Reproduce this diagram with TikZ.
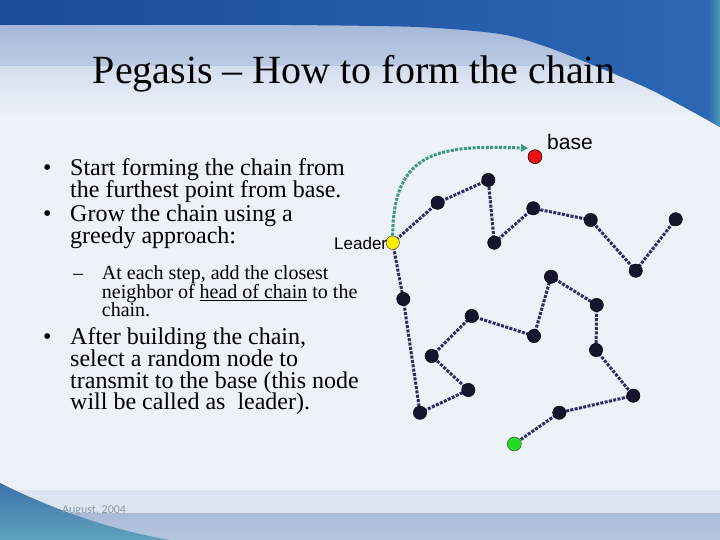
\documentclass[tikz,border=0pt]{standalone}
\usepackage{fontspec}
\setmainfont{Liberation Serif}
\newfontfamily\arialf{Liberation Sans}
\newfontfamily\calf{Carlito}
\usetikzlibrary{arrows.meta}
\pgfdeclarelayer{bglayer}
\pgfdeclarelayer{edgelayer}
\pgfsetlayers{bglayer,edgelayer,main}
\definecolor{pagebg}{HTML}{EDF1F8}
\definecolor{bandA}{HTML}{A5B8D9}
\definecolor{bandB}{HTML}{BCCBE3}
\definecolor{bandC}{HTML}{D4DEEE}
\definecolor{blueL}{HTML}{1B4C9C}
\definecolor{blueR}{HTML}{2D67B3}
\definecolor{tealS}{HTML}{4A9AB0}
\definecolor{footA}{HTML}{DCE4EF}
\definecolor{footB}{HTML}{A8BBD9}
\definecolor{footC}{HTML}{B6C6DF}
\definecolor{wedgeA}{HTML}{3D72A8}
\definecolor{wedgeB}{HTML}{5FA3BE}
\definecolor{footcol}{HTML}{8D9BB0}
\definecolor{linkcol}{HTML}{2C2C68}
\definecolor{nodedark}{HTML}{15152E}
\definecolor{arrowcol}{HTML}{3A9A88}
\definecolor{basered}{HTML}{EE1111}
\definecolor{leadyel}{HTML}{FFEE00}
\definecolor{startgreen}{HTML}{22DD22}
\begin{document}
\begin{tikzpicture}[x=1pt,y=-1pt,
  bigtext/.style={anchor=base west, inner sep=0pt, text height=15pt, text depth=4pt, font=\fontsize{24}{28}\selectfont},
  subtext/.style={anchor=base west, inner sep=0pt, text height=12.5pt, text depth=4pt, font=\fontsize{20}{24}\selectfont},
  sensor/.style={circle, fill=nodedark, draw=black, line width=0.5pt, minimum size=13.3pt, inner sep=0pt},
  basenode/.style={sensor, fill=basered, minimum size=14pt},
  leadnode/.style={sensor, fill=leadyel, draw=black!70, minimum size=13.5pt},
  startnode/.style={sensor, fill=startgreen, draw=black!70, minimum size=14pt},
  link/.style={draw=linkcol, line width=3pt, dash pattern=on 3pt off 1.4pt},
  sendarrow/.style={draw=arrowcol, line width=3pt, dash pattern=on 3pt off 1.4pt,
     -{Triangle[length=7pt,width=7.5pt]}}
]
\useasboundingbox (0,0) rectangle (720,540);
\begin{pgfonlayer}{bglayer}
  \fill[pagebg] (0,0) rectangle (720,540);
  % title band
  \shade[top color=bandA, bottom color=bandB] (0,24) rectangle (720,67);
  \shade[top color=bandC, bottom color=pagebg] (0,67) rectangle (720,115);
  % top blue swoosh
  \shade[left color=blueL, right color=blueR]
    (0,0) -- (0,25) -- plot[smooth] coordinates {(290,25) (417,27) (500,34) (547,47) (600,68) (647,88) (680,105) (720,127)} -- (720,0) -- cycle;
  \shade[left color=blueR, right color=tealS] (708,0) -- (720,0) -- (720,127) -- (708,120) -- cycle;
  % footer bands
  \fill[footA] (0,490) rectangle (720,513);
  \shade[top color=footB, bottom color=footC] (0,513) rectangle (720,540);
  \shade[top color=wedgeA, bottom color=wedgeB]
    (0,483) .. controls (40,503) and (100,528) .. (170,540) -- (0,540) -- cycle;
\end{pgfonlayer}

% title
\node[anchor=base, inner sep=0pt, font=\fontsize{40}{44}\selectfont] (title) at (354,84) {Pegasis -- How to form the chain};

% bullets
\node[bigtext] (bul1) at (43,175.7) {•};
\node[bigtext] (t1a) at (70,175.7) {Start forming the chain from};
\node[bigtext] (t1b) at (70,197.7) {the furthest point from base.};
\node[bigtext] (bul2) at (43,221.7) {•};
\node[bigtext] (t2a) at (70,221.7) {Grow the chain using a};
\node[bigtext] (t2b) at (70,243.6) {greedy approach:};
\node[subtext] (dash1) at (73,279) {--};
\node[subtext] (s1a) at (101.7,279) {At each step, add the closest};
\node[subtext] (s1b) at (101.7,298.3) {neighbor of \underline{head of chain} to the};
\node[subtext] (s1c) at (101.7,316.6) {chain.};
\node[bigtext] (bul3) at (43,344.2) {•};
\node[bigtext] (t3a) at (70,344.2) {After building the chain,};
\node[bigtext] (t3b) at (70,366.1) {select a random node to};
\node[bigtext] (t3c) at (70,388) {transmit to the base (this node};
\node[bigtext] (t3d) at (70,409.9) {will be called as\ \ leader).};

% footer
\node[anchor=base west, inner sep=0pt, font=\calf\fontsize{12}{14}\selectfont, text=footcol] (foot) at (62,513) {August, 2004};

% sensor nodes
\node[basenode] (base) at (535,156.7) {};
\node[leadnode] (ld) at (392.7,242.7) {};
\node[sensor] (n1) at (437.7,202.7) {};
\node[sensor] (n2) at (488.3,180) {};
\node[sensor] (n3) at (494.3,242.7) {};
\node[sensor] (n4) at (533.3,208.3) {};
\node[sensor] (n5) at (590.7,220) {};
\node[sensor] (n6) at (635.7,270.7) {};
\node[sensor] (n7) at (675.7,219.3) {};
\node[sensor] (n8) at (403.3,299) {};
\node[sensor] (n9) at (420,412.7) {};
\node[sensor] (n10) at (468.3,390) {};
\node[sensor] (n11) at (431.7,356) {};
\node[sensor] (n12) at (471.7,316) {};
\node[sensor] (n13) at (534,336) {};
\node[sensor] (n14) at (551,276.7) {};
\node[sensor] (n15) at (596.7,305) {};
\node[sensor] (n16) at (596,350) {};
\node[sensor] (n17) at (633.3,395.7) {};
\node[sensor] (n18) at (559.3,412.7) {};
\node[startnode] (gr) at (514.3,444) {};

% labels
\node[anchor=base west, inner sep=0pt, font=\arialf\fontsize{21}{24}\selectfont] (baselbl) at (547,150) {base};
\node[anchor=base west, inner sep=0pt, font=\arialf\fontsize{17}{20}\selectfont] (ldlbl) at (334,249) {Leader};

% chain links
\begin{pgfonlayer}{edgelayer}
  \foreach \a/\b in {n7/n6, n6/n5, n5/n4, n4/n3, n3/n2, n2/n1, n1/ld, ld/n8, n8/n9, n9/n10, n10/n11, n11/n12, n12/n13, n13/n14, n14/n15, n15/n16, n16/n17, n17/n18, n18/gr}
    \draw[link] (\a.center) -- (\b.center);
\end{pgfonlayer}

% leader to base
\coordinate (arrowend) at ([shift={(-7pt,8.5pt)}]base.center);
\draw[sendarrow] (ld.north) .. controls (393,150) and (440,145) .. (arrowend);
\end{tikzpicture}
\end{document}
